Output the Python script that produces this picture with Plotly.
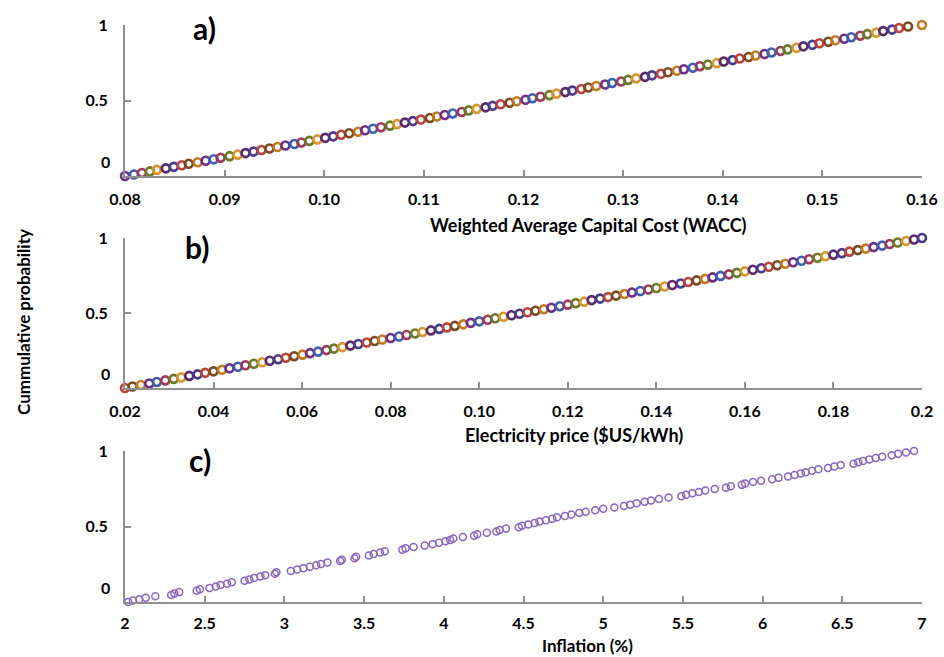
import plotly.graph_objects as go

# ---------------- data ----------------
wacc = [0.0800, 0.0809, 0.0817, 0.0825, 0.0832, 0.0841, 0.0849, 0.0857, 0.0864, 0.0873,
        0.0881, 0.0889, 0.0896, 0.0905, 0.0913, 0.0921, 0.0929, 0.0937, 0.0945, 0.0953,
        0.0961, 0.0970, 0.0977, 0.0985, 0.0993, 0.1001, 0.1009, 0.1017, 0.1025, 0.1034,
        0.1041, 0.1049, 0.1057, 0.1066, 0.1073, 0.1081, 0.1089, 0.1097, 0.1106, 0.1113,
        0.1121, 0.1129, 0.1138, 0.1145, 0.1153, 0.1162, 0.1169, 0.1177, 0.1186, 0.1193,
        0.1202, 0.1209, 0.1217, 0.1226, 0.1233, 0.1242, 0.1249, 0.1258, 0.1265, 0.1273,
        0.1282, 0.1289, 0.1298, 0.1305, 0.1313, 0.1322, 0.1329, 0.1338, 0.1345, 0.1354,
        0.1361, 0.1370, 0.1377, 0.1385, 0.1394, 0.1401, 0.1410, 0.1417, 0.1426, 0.1433,
        0.1442, 0.1449, 0.1458, 0.1465, 0.1474, 0.1481, 0.1490, 0.1497, 0.1506, 0.1513,
        0.1522, 0.1529, 0.1538, 0.1545, 0.1554, 0.1561, 0.1570, 0.1577, 0.1586, 0.1600]

price = [0.0200, 0.0217, 0.0236, 0.0255, 0.0272, 0.0291, 0.0310, 0.0327, 0.0345, 0.0364,
         0.0381, 0.0400, 0.0419, 0.0436, 0.0455, 0.0472, 0.0491, 0.0510, 0.0527, 0.0546,
         0.0563, 0.0582, 0.0601, 0.0618, 0.0636, 0.0655, 0.0672, 0.0691, 0.0709, 0.0727,
         0.0746, 0.0764, 0.0781, 0.0800, 0.0819, 0.0836, 0.0855, 0.0872, 0.0891, 0.0910,
         0.0927, 0.0945, 0.0964, 0.0981, 0.1000, 0.1019, 0.1036, 0.1055, 0.1073, 0.1091,
         0.1109, 0.1127, 0.1146, 0.1163, 0.1182, 0.1200, 0.1218, 0.1237, 0.1254, 0.1273,
         0.1291, 0.1309, 0.1328, 0.1345, 0.1364, 0.1382, 0.1400, 0.1419, 0.1436, 0.1455,
         0.1472, 0.1491, 0.1510, 0.1527, 0.1545, 0.1564, 0.1582, 0.1600, 0.1618, 0.1637,
         0.1654, 0.1673, 0.1691, 0.1709, 0.1728, 0.1745, 0.1764, 0.1782, 0.1800, 0.1819,
         0.1836, 0.1855, 0.1873, 0.1891, 0.1910, 0.1927, 0.1945, 0.1964, 0.1982, 0.2000]

inflation = [2.02, 2.05, 2.09, 2.13, 2.19, 2.29, 2.31, 2.34, 2.45, 2.47,
             2.53, 2.57, 2.60, 2.64, 2.67, 2.75, 2.78, 2.81, 2.85, 2.88,
             2.94, 2.95, 3.04, 3.08, 3.12, 3.16, 3.20, 3.23, 3.27, 3.35,
             3.36, 3.44, 3.45, 3.53, 3.56, 3.60, 3.63, 3.74, 3.76, 3.81,
             3.88, 3.93, 3.97, 4.01, 4.04, 4.06, 4.12, 4.19, 4.21, 4.27,
             4.33, 4.35, 4.39, 4.47, 4.49, 4.53, 4.57, 4.60, 4.64, 4.68,
             4.71, 4.76, 4.80, 4.85, 4.89, 4.95, 5.00, 5.07, 5.13, 5.17,
             5.21, 5.26, 5.30, 5.35, 5.41, 5.49, 5.52, 5.56, 5.60, 5.64,
             5.70, 5.77, 5.80, 5.87, 5.89, 5.94, 5.99, 6.06, 6.10, 6.16,
             6.20, 6.24, 6.27, 6.31, 6.35, 6.41, 6.45, 6.49, 6.57, 6.60,
             6.63, 6.67, 6.71, 6.75, 6.81, 6.85, 6.90, 6.95]

wacc_ticks = [0.08, 0.09, 0.10, 0.11, 0.12, 0.13, 0.14, 0.15, 0.16]
wacc_ticktext = ["0.08", "0.09", "0.10", "0.11", "0.12", "0.13", "0.14", "0.15", "0.16"]
price_ticks = [0.02, 0.04, 0.06, 0.08, 0.10, 0.12, 0.14, 0.16, 0.18, 0.20]
price_ticktext = ["0.02", "0.04", "0.06", "0.08", "0.10", "0.12", "0.14", "0.16", "0.18", "0.2"]
infl_ticks = [2, 2.5, 3, 3.5, 4, 4.5, 5, 5.5, 6, 6.5, 7]
infl_ticktext = ["2", "2.5", "3", "3.5", "4", "4.5", "5", "5.5", "6", "6.5", "7"]
prob_ticks = [0, 0.5, 1]
prob_ticktext = ["", "0.5", "1"]

titles = ["Weighted Average Capital Cost (WACC)", "Electricity price ($US/kWh)", "Inflation (%)"]
panel_labels = ["a)", "b)", "c)"]


def ecdf(values):
    xs = sorted(values)
    n = len(xs)
    return xs, [i / (n - 1) for i in range(n)]


# ---------------- styling ----------------
W, H = 944, 657
FONT = "Lato"
mixed = ["#6e2f86", "#b8443e", "#d8962e", "#3f5fae", "#7a4a22",
         "#5a2a6a", "#9b3b5a", "#c07a24", "#4a3a8a", "#6a7a2a"]
purple = "#8a66bb"

fig = go.Figure()

for i, (vals, ax) in enumerate([(wacc, ""), (price, "2")]):
    xs, ys = ecdf(vals)
    cols = [mixed[(k * 3 + i) % len(mixed)] for k in range(len(xs))]
    fig.add_trace(go.Scatter(
        x=xs, y=ys, mode="markers", xaxis="x" + ax, yaxis="y" + ax,
        marker=dict(symbol="circle-open", size=8, color=cols,
                    line=dict(width=2.6, color=cols)),
        cliponaxis=False, showlegend=False))

xs, ys = ecdf(inflation)
fig.add_trace(go.Scatter(
    x=xs, y=ys, mode="markers", xaxis="x3", yaxis="y3",
    marker=dict(symbol="circle-open", size=7, color=purple,
                line=dict(width=1.5, color=purple)),
    cliponaxis=False, showlegend=False))

x0, x1 = 125 / W, 922 / W
doms = [(1 - 176 / H, 1 - 25 / H), (1 - 388 / H, 1 - 238 / H), (1 - 602 / H, 1 - 451 / H)]

axcol = "#8f8f8f"
common = dict(showline=True, linecolor=axcol, linewidth=2, ticks="inside",
              ticklen=6, tickcolor=axcol, tickwidth=1.5, showgrid=False,
              zeroline=False, mirror=False, automargin=False,
              tickfont=dict(family=FONT, size=16, color="black", weight="bold"))

xinfo = [([0.08, 0.16], wacc_ticks, wacc_ticktext, 8),
         ([0.02, 0.20], price_ticks, price_ticktext, 8),
         ([2, 7], infl_ticks, infl_ticktext, 6)]

layout = dict(width=W, height=H, margin=dict(l=0, r=0, t=0, b=0, autoexpand=False),
              plot_bgcolor="white", paper_bgcolor="white")
for k in range(3):
    suf = "" if k == 0 else str(k + 1)
    rng, tv, tt, so = xinfo[k]
    layout["xaxis" + suf] = dict(common, domain=[x0, x1], range=rng, tickvals=tv,
                                 ticktext=tt, anchor="y" + suf, ticklabelstandoff=so)
    layout["yaxis" + suf] = dict(common, domain=list(doms[k]), range=[0, 1.0],
                                 tickvals=prob_ticks, ticktext=prob_ticktext,
                                 anchor="x" + suf, ticklabelstandoff=12)
fig.update_layout(**layout)

ann = []
title_pos = [(588, 225), (574, 435), (587, 645)]
title_size = [18, 18, 17]
label_pos = [(204, 28), (197, 247), (200, 460)]
for k in range(3):
    ann.append(dict(text=titles[k], x=title_pos[k][0] / W, y=1 - title_pos[k][1] / H,
                    xref="paper", yref="paper", showarrow=False,
                    font=dict(family=FONT, size=title_size[k], color="black", weight="bold"),
                    xanchor="center", yanchor="middle"))
    ann.append(dict(text=panel_labels[k], x=label_pos[k][0] / W, y=1 - label_pos[k][1] / H,
                    xref="paper", yref="paper", showarrow=False,
                    font=dict(family=FONT, size=30, color="black", weight="bold"),
                    xanchor="center", yanchor="middle"))
    ann.append(dict(text="0", x=x0, y=doms[k][0], xref="paper", yref="paper",
                    showarrow=False, xanchor="right", yanchor="middle",
                    xshift=-13, yshift=15,
                    font=dict(family=FONT, size=16, color="black", weight="bold")))
ann.append(dict(text="Cummulative probability", x=23 / W, y=1 - 322 / H,
                xref="paper", yref="paper", showarrow=False, textangle=-90,
                font=dict(family=FONT, size=17, color="black", weight="bold"),
                xanchor="center", yanchor="middle"))
fig.update_layout(annotations=ann)

fig.write_html("out.html", config={"displayModeBar": False},
               post_script="document.body.style.margin='0';document.body.style.overflow='hidden';")
